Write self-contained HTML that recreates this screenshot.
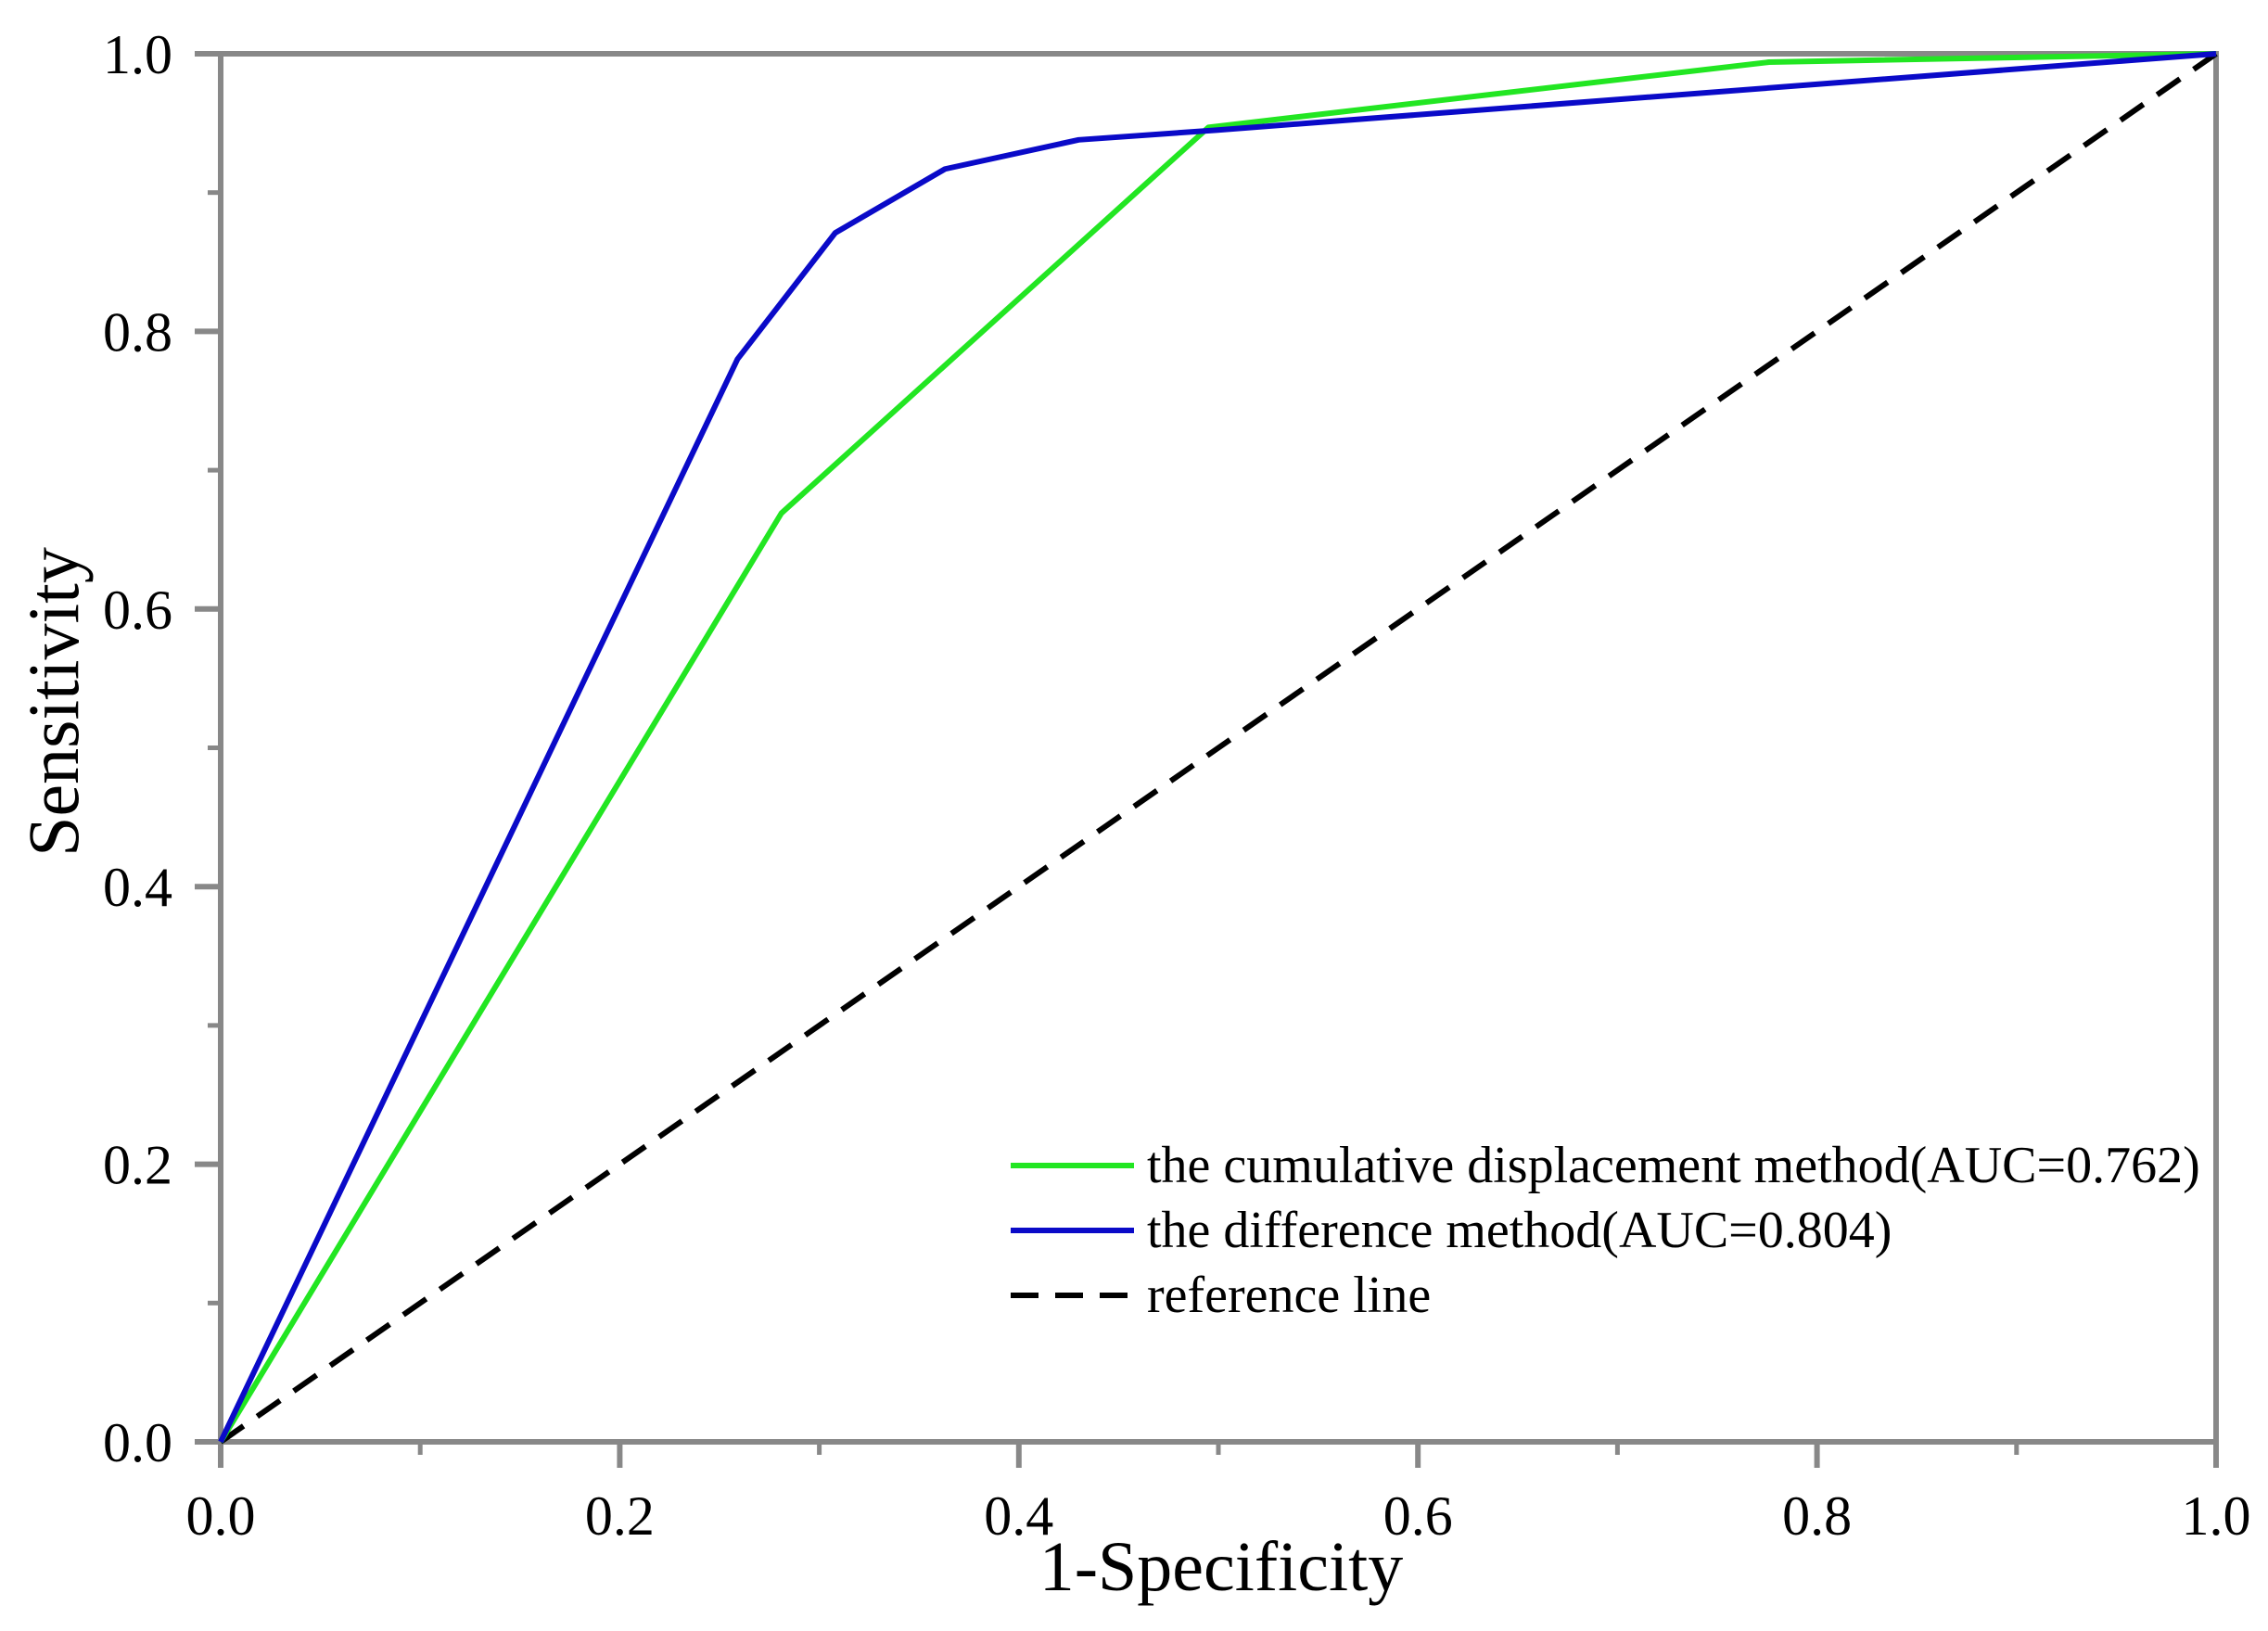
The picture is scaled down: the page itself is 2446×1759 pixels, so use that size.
<!DOCTYPE html>
<html><head><meta charset="utf-8"><style>
html,body{margin:0;padding:0;background:#fff;}
svg{display:block;font-family:"Liberation Serif",serif;}
</style></head><body>
<svg id="chart" width="2446" height="1759" viewBox="0 0 2446 1759">
<g id="axes"></g>
<g id="series"></g>
<text x="1317" y="1715" font-size="76" text-anchor="middle">1-Specificity</text>
<text transform="translate(84,757) rotate(-90)" font-size="78" text-anchor="middle">Sensitivity</text>
<g>
<g>
<line x1="1090" y1="1257" x2="1223" y2="1257" stroke="#22e622" stroke-width="6"/>
<text x="1237" y="1275" font-size="56">the cumulative displacement method(AUC=0.762)</text></g>
<g>
<line x1="1090" y1="1327" x2="1223" y2="1327" stroke="#0a0ac8" stroke-width="6"/>
<text x="1237" y="1345" font-size="56">the difference method(AUC=0.804)</text></g>
<g>
<line x1="1090" y1="1397" x2="1223" y2="1397" stroke="#000" stroke-width="6" stroke-dasharray="30,18"/>
<text x="1237" y="1415" font-size="56">reference line</text></g>
</g>
</svg>
<script>
const xTicks=[0,0.2,0.4,0.6,0.8,1.0];
const yTicks=[0,0.2,0.4,0.6,0.8,1.0];
const tickLabels=["0.0","0.2","0.4","0.6","0.8","1.0"];
const greenX=[0,0.281,0.495,0.776,1];
const greenY=[0,0.669,0.947,0.994,1];
const blueX=[0,0.259,0.308,0.363,0.430,0.499,1];
const blueY=[0,0.780,0.871,0.917,0.938,0.945,1];
const refX=[0,1];
const refY=[0,1];
const L=238,R=2390,T=58,B=1555;
const sx=v=>L+v*(R-L), sy=v=>B-v*(B-T);
const NS="http://www.w3.org/2000/svg";
const axes=document.getElementById('axes'), ser=document.getElementById('series');
function mk(tag,attrs,parent){const e=document.createElementNS(NS,tag);for(const k in attrs)e.setAttribute(k,attrs[k]);parent.appendChild(e);return e;}
const fr=mk('rect',{x:L,y:T,width:R-L,height:B-T,fill:'none',stroke:'#888',"stroke-width":6},axes);


xTicks.forEach((v,i)=>{
  const t=mk('line',{x1:sx(v),y1:B,x2:sx(v),y2:B+28,stroke:'#888',"stroke-width":6},axes);
  
  
  const lb=mk('text',{x:sx(v),y:B+100,"font-size":60,"text-anchor":"middle"},axes);
  lb.textContent=tickLabels[i];
  
  
  if(i<xTicks.length-1){
    const m=mk('line',{x1:sx(v+0.1),y1:B,x2:sx(v+0.1),y2:B+14,stroke:'#888',"stroke-width":5},axes);
    
    
  }
});
yTicks.forEach((v,i)=>{
  const t=mk('line',{x1:L-28,y1:sy(v),x2:L,y2:sy(v),stroke:'#888',"stroke-width":6},axes);
  
  
  const lb=mk('text',{x:186,y:sy(v)+21,"font-size":60,"text-anchor":"end"},axes);
  lb.textContent=tickLabels[i];
  
  
  if(i<yTicks.length-1){
    const m=mk('line',{x1:L-14,y1:sy(v+0.1),x2:L,y2:sy(v+0.1),stroke:'#888',"stroke-width":5},axes);
    
    
  }
});
function pts(xs,ys){return xs.map((x,i)=>sx(x)+','+sy(ys[i])).join(' ');}
const r=mk('polyline',{points:pts(refX,refY),fill:'none',stroke:'#000',"stroke-width":6,"stroke-dasharray":"30,18"},ser);


const g=mk('polyline',{points:pts(greenX,greenY),fill:'none',stroke:'#22e622',"stroke-width":6,"stroke-linejoin":"round"},ser);


const b=mk('polyline',{points:pts(blueX,blueY),fill:'none',stroke:'#0a0ac8',"stroke-width":6,"stroke-linejoin":"round"},ser);


</script>
</body></html>
